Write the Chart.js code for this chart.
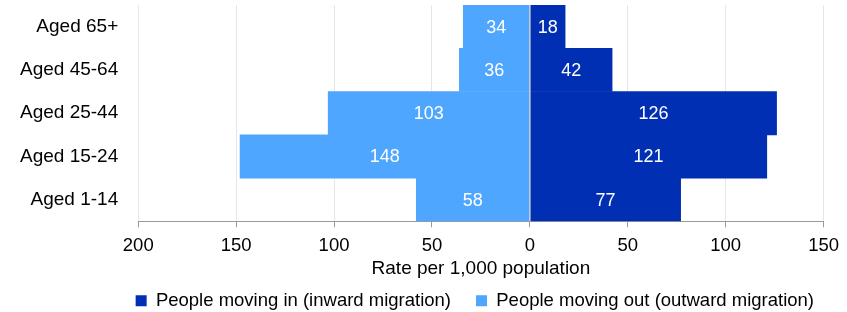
<!DOCTYPE html>
<html>
<head>
<meta charset="utf-8">
<script src="https://cdn.jsdelivr.net/npm/chart.js@4/dist/chart.umd.min.js"></script>
<style>
  html, body { margin: 0; padding: 0; background: #fff; }
  #wrap { width: 847px; height: 312px; }
</style>
</head>
<body>
<div id="wrap"><canvas id="chart"></canvas></div>
<script>
// données
const categories = ['Aged 65+', 'Aged 45-64', 'Aged 25-44', 'Aged 15-24', 'Aged 1-14'];
const inward = [18, 42, 126, 121, 77];
const outward = [34, 36, 103, 148, 58];
const tickValues = [-200, -150, -100, -50, 0, 50, 100, 150];

const darkBlue = '#002fb3';
const lightBlue = '#4ea6ff';
const fontFamily = '"Liberation Sans", Arial, sans-serif';

// étiquettes blanches au centre des barres
const barLabels = {
    id: 'barLabels',
    afterDatasetsDraw(chart) {
        const ctx = chart.ctx;
        ctx.save();
        ctx.font = '18px ' + fontFamily;
        ctx.fillStyle = '#ffffff';
        ctx.textAlign = 'center';
        ctx.textBaseline = 'middle';
        chart.data.datasets.forEach((ds, i) => {
            chart.getDatasetMeta(i).data.forEach((bar, j) => {
                const cx = (bar.x + bar.base) / 2;
                ctx.fillText(Math.abs(ds.data[j]), cx, bar.y + 1);
            });
        });
        ctx.restore();
    }
};

// ligne du zéro par-dessus les barres
const zeroLine = {
    id: 'zeroLine',
    afterDatasetsDraw(chart) {
        const ctx = chart.ctx;
        const x = chart.scales.x.getPixelForValue(0);
        ctx.save();
        ctx.strokeStyle = '#c9ccd4';
        ctx.lineWidth = 1.5;
        ctx.beginPath();
        ctx.moveTo(x, chart.chartArea.top);
        ctx.lineTo(x, chart.chartArea.bottom);
        ctx.stroke();
        ctx.restore();
    }
};

Chart.defaults.font.family = fontFamily;
Chart.defaults.font.size = 18.5;
Chart.defaults.color = '#000000';

new Chart(document.getElementById('chart'), {
    type: 'bar',
    data: {
        labels: categories,
        datasets: [
            {
                label: 'People moving in (inward migration)',
                data: inward,
                backgroundColor: darkBlue,
                barPercentage: 1,
                categoryPercentage: 1
            },
            {
                label: 'People moving out (outward migration)',
                data: outward.map(v => -v),
                backgroundColor: lightBlue,
                barPercentage: 1,
                categoryPercentage: 1
            }
        ]
    },
    options: {
        indexAxis: 'y',
        responsive: true,
        maintainAspectRatio: false,
        animation: false,
        // marge du bas négative : le padding de la légende sert surtout à espacer les deux items
        layout: { padding: { top: 5, right: 8, left: 0, bottom: -8 } },
        scales: {
            x: {
                stacked: true,
                min: -200,
                max: 150,
                afterBuildTicks(axis) {
                    axis.ticks = tickValues.map(v => ({ value: v }));
                },
                ticks: {
                    callback: v => Math.abs(v),
                    padding: 8,
                    font: { size: 18.5, lineHeight: 1.1 }
                },
                grid: {
                    color: '#e6e6e6',
                    tickColor: '#9a9a9a',
                    tickLength: 6
                },
                border: { color: '#9a9a9a' },
                title: {
                    display: true,
                    text: 'Rate per 1,000 population',
                    font: { size: 19 },
                    padding: { top: -6, bottom: -14 }
                }
            },
            y: {
                stacked: true,
                grid: { display: false, drawTicks: false },
                border: { display: false },
                ticks: { padding: 20, font: { size: 19 } },
                afterFit(axis) {
                    axis.paddingTop = 0;
                    axis.paddingBottom = 0;
                }
            }
        },
        plugins: {
            legend: {
                position: 'bottom',
                align: 'end',
                labels: {
                    boxWidth: 11,
                    boxHeight: 11,
                    padding: 25,
                    font: { size: 18.5 }
                }
            },
            tooltip: { enabled: false }
        }
    },
    plugins: [barLabels, zeroLine]
});
</script>
</body>
</html>
